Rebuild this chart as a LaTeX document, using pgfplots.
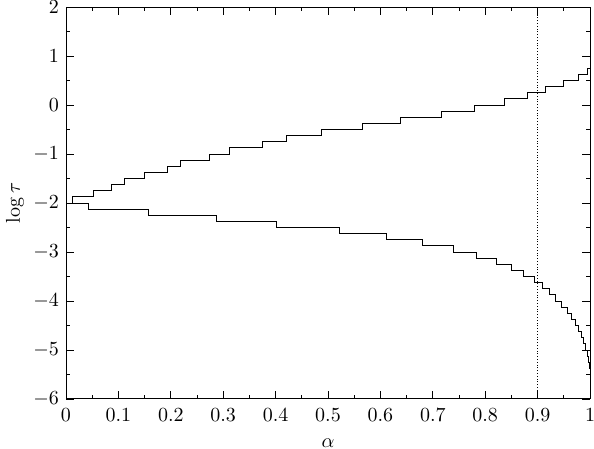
\documentclass[border=0pt]{standalone}
\usepackage{pgfplots}
\pgfplotsset{compat=1.18}

\begin{document}
\begin{tikzpicture}
\begin{axis}[
    name=ax,
    scale only axis,
    width=262pt, height=196pt,
    xmin=0, xmax=1, ymin=-6, ymax=2,
    xtick={0,0.1,...,1}, ytick={-6,-5,...,2},
    xticklabels={0,0.1,0.2,0.3,0.4,0.5,0.6,0.7,0.8,0.9,1},
    minor x tick num=1, minor y tick num=1,
    major tick length=4pt, minor tick length=2pt,
    tick style={black, line width=0.4pt},
    axis line style={line width=0.5pt},
    xticklabel style={yshift=-1pt},
    xlabel={$\alpha$}, ylabel={$\log\tau$},
    xlabel style={yshift=-1.5pt},
    ylabel style={yshift=-2pt},
]
% upper curve
\addplot[const plot, black, line width=0.45pt] coordinates {
(0,-2) (0.013,-1.875) (0.052,-1.75) (0.087,-1.625) (0.112,-1.5) (0.149,-1.375)
(0.193,-1.25) (0.219,-1.125) (0.273,-1.0) (0.311,-0.875) (0.375,-0.75) (0.42,-0.625)
(0.487,-0.5) (0.566,-0.375) (0.638,-0.25) (0.716,-0.125) (0.779,0) (0.837,0.125)
(0.88,0.25) (0.915,0.375) (0.95,0.5) (0.978,0.625) (0.996,0.75) (1,0.75)
};
% lower curve
\addplot[const plot, black, line width=0.45pt] coordinates {
(0,-2) (0.043,-2.125) (0.158,-2.25) (0.287,-2.375) (0.402,-2.5) (0.522,-2.625)
(0.611,-2.75) (0.681,-2.875) (0.74,-3.0) (0.784,-3.125) (0.821,-3.25) (0.85,-3.375)
(0.873,-3.5) (0.894,-3.625) (0.909,-3.75) (0.923,-3.875) (0.934,-4.0) (0.946,-4.125)
(0.956,-4.25) (0.965,-4.375) (0.972,-4.5) (0.978,-4.625) (0.983,-4.75) (0.988,-4.875)
(0.992,-5.0) (0.995,-5.125) (0.997,-5.25) (0.999,-5.375) (1,-5.5)
};
% vertical marker
\addplot[black, densely dotted, line width=0.4pt] coordinates {(0.9,-6) (0.9,2)};
\end{axis}
\pgfresetboundingbox
\path[use as bounding box] ([shift={(-33pt,-25pt)}]ax.south west) rectangle ([shift={(2pt,3.5pt)}]ax.north east);
\end{tikzpicture}
\end{document}
